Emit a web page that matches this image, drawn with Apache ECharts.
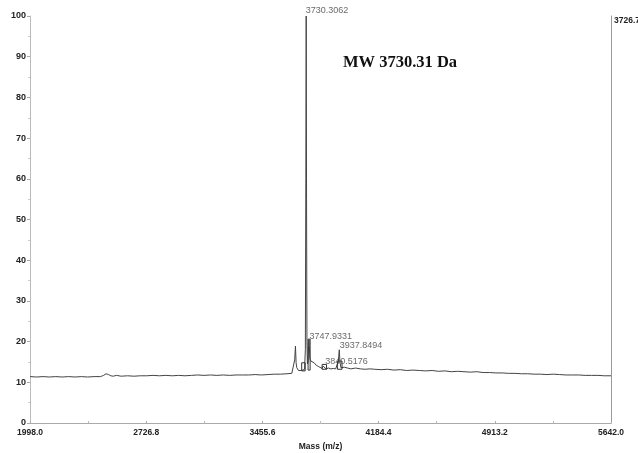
<!DOCTYPE html>
<html>
<head>
<meta charset="utf-8">
<script src="https://cdn.jsdelivr.net/npm/echarts@6/dist/echarts.min.js"></script>
<style>
  html, body { margin: 0; padding: 0; background: #fff; }
  #chart { width: 638px; height: 453px; }
</style>
</head>
<body>
<div id="chart"></div>
<script>
// Mass spectrum: m/z values and relative intensity (%)
const masses = [
  1998, 2040, 2080, 2120, 2160, 2200, 2240, 2280, 2320, 2360, 2400, 2440,
  2460, 2475, 2490, 2505, 2520, 2540, 2570, 2610, 2650, 2690, 2730, 2770,
  2810, 2850, 2890, 2930, 2970, 3010, 3050, 3090, 3130, 3170, 3210, 3250,
  3290, 3330, 3370, 3410, 3450, 3490, 3530, 3570, 3610, 3640, 3652, 3658,
  3663, 3667, 3671, 3676, 3682, 3692, 3702, 3712, 3720, 3725, 3728, 3730.3062,
  3732.5, 3735, 3738, 3742, 3745, 3747.9331, 3750, 3753, 3760, 3769, 3780, 3793,
  3806, 3818, 3830, 3836, 3840.5176, 3845, 3855, 3870, 3885, 3900, 3915, 3926,
  3932, 3937.8494, 3942, 3948, 3958, 3970, 3990, 4010, 4040, 4070, 4100, 4130,
  4160, 4200, 4240, 4280, 4320, 4360, 4400, 4440, 4480, 4520, 4560, 4600,
  4640, 4680, 4720, 4760, 4800, 4840, 4880, 4920, 4960, 5000, 5040, 5080,
  5120, 5160, 5200, 5240, 5280, 5320, 5360, 5400, 5440, 5480, 5520, 5560,
  5600, 5642
];
const intensities = [
  11.4, 11.3, 11.4, 11.3, 11.4, 11.3, 11.4, 11.3, 11.4, 11.3, 11.4, 11.4,
  11.7, 12.1, 11.9, 11.6, 11.5, 11.7, 11.5, 11.6, 11.5, 11.6, 11.6, 11.7,
  11.6, 11.7, 11.6, 11.7, 11.6, 11.7, 11.8, 11.7, 11.8, 11.7, 11.8, 11.7,
  11.8, 11.8, 11.8, 11.9, 11.8, 11.9, 12.0, 12.0, 12.1, 12.2, 12.4, 15.5,
  18.9, 14.8, 13.6, 14.0, 12.9, 12.6, 12.9, 12.7, 13.2, 18, 60, 100,
  55, 20, 14.5, 15, 19, 20.5, 19, 15.8, 15.2, 15.6, 14.8, 14.2,
  13.9, 13.6, 13.4, 14.0, 14.4, 13.6, 13.3, 13.5, 13.3, 13.4, 13.3, 13.6,
  15.2, 18, 15.0, 13.6, 13.9, 13.7, 13.5, 13.3, 13.5, 13.3, 13.2, 13.3,
  13.2, 13.1, 13.2, 13.0, 13.1, 12.9, 13.0, 12.9, 12.8, 12.9, 12.7, 12.8,
  12.6, 12.7, 12.6, 12.5, 12.6, 12.4, 12.4, 12.3, 12.3, 12.2, 12.2, 12.1,
  12.1, 12.0, 12.0, 11.9, 12.0, 11.9, 11.8, 11.8, 11.8, 11.7, 11.7, 11.7,
  11.6, 11.6
];

// Labelled peaks (m/z, relative intensity)
const peakMasses = [3730.3062, 3747.9331, 3840.5176, 3937.8494];
const peakHeights = [100, 20.5, 14.4, 18];

// Peak integration boxes: [m/z start, m/z end, low, high]
const boxStart = [3702, 3742, 3830, 3926];
const boxEnd = [3724, 3755, 3858, 3955];
const boxLow = [12.8, 13.0, 13.2, 13.2];
const boxHigh = [14.8, 20.6, 14.4, 15.2];

// Axis ticks
const xMin = 1998.0, xMax = 5642.0, xStep = 728.8;
const yMin = 0, yMax = 100, yStep = 10;
const absMax = 3726.7;

const title = 'MW 3730.31 Da';
const xName = 'Mass (m/z)';

const lineData = masses.map((m, i) => [m, intensities[i]]);
const peakData = peakMasses.map((m, i) => [m, peakHeights[i]]);
const boxData = boxStart.map((s, i) => [s, boxEnd[i], boxLow[i], boxHigh[i]]);

// label offsets per peak (pixels)
const peakLabelOffsets = [[0, 0], [1, 2], [2, 2], [1, 1]];

const chart = echarts.init(document.getElementById('chart'), null, { renderer: 'canvas' });

const tickFont = { fontFamily: 'Liberation Sans, Arial, sans-serif', fontSize: 8.5, fontWeight: 'bold', color: '#222' };

chart.setOption({
  animation: false,
  backgroundColor: '#fff',
  grid: { left: 30, right: 27, top: 16, bottom: 30, containLabel: false, outerBoundsMode: 'none' },
  xAxis: {
    type: 'value',
    min: xMin, max: xMax, interval: xStep,
    name: xName,
    nameLocation: 'middle',
    nameGap: 16,
    nameTextStyle: Object.assign({}, tickFont, { fontSize: 8.5 }),
    axisLine: { show: true, onZero: false, lineStyle: { color: '#aaa', width: 1 } },
    axisTick: { show: true, length: 2, inside: true, lineStyle: { color: '#aaa' } },
    minorTick: { show: true, splitNumber: 2, length: 2, lineStyle: { color: '#bbb' } },
    axisLabel: Object.assign({ margin: 5, formatter: v => v.toFixed(1) }, tickFont),
    splitLine: { show: false }
  },
  yAxis: [{
    type: 'value',
    min: yMin, max: yMax, interval: yStep,
    axisLine: { show: true, lineStyle: { color: '#bbb', width: 1 } },
    axisTick: { show: true, length: 3, lineStyle: { color: '#aaa' } },
    minorTick: { show: true, splitNumber: 2, length: 2, lineStyle: { color: '#ccc' } },
    axisLabel: Object.assign({ margin: 4 }, tickFont, { fontSize: 9 }),
    splitLine: { show: false }
  }, {
    type: 'value',
    position: 'right',
    min: 0, max: absMax, interval: absMax,
    axisLine: { show: true, lineStyle: { color: '#999', width: 1 } },
    axisTick: { show: false },
    axisLabel: Object.assign({
      margin: 3,
      verticalAlign: 'top',
      formatter: v => (v > 0 ? absMax.toFixed(1) : '')
    }, tickFont, { fontSize: 8.5 }),
    splitLine: { show: false }
  }],
  series: [{
    type: 'line',
    data: lineData,
    showSymbol: false,
    symbol: 'none',
    lineStyle: { color: '#444', width: 1 },
    z: 3
  }, {
    type: 'custom',
    data: boxData,
    renderItem: function (params, api) {
      const p1 = api.coord([api.value(0), api.value(3)]);
      const p2 = api.coord([api.value(1), api.value(2)]);
      return {
        type: 'rect',
        shape: { x: p1[0], y: p1[1], width: p2[0] - p1[0], height: p2[1] - p1[1] },
        style: { fill: 'none', stroke: '#333', lineWidth: 1 }
      };
    },
    z: 4
  }, {
    type: 'scatter',
    data: peakData.map((d, i) => ({
      value: d,
      label: {
        show: true,
        position: [peakLabelOffsets[i][0], peakLabelOffsets[i][1]],
        align: 'left',
        verticalAlign: 'bottom',
        formatter: () => peakMasses[i].toFixed(4),
        fontFamily: 'Liberation Sans, Arial, sans-serif',
        fontSize: 9,
        color: '#444'
      }
    })),
    symbolSize: 1,
    itemStyle: { color: 'rgba(0,0,0,0)' },
    silent: true,
    z: 5
  }],
  graphic: [{
    type: 'text',
    left: 343,
    top: 54,
    style: {
      text: title,
      font: 'bold 16.5px "Liberation Serif", "Times New Roman", serif',
      fill: '#111'
    }
  }]
});
</script>
</body>
</html>
